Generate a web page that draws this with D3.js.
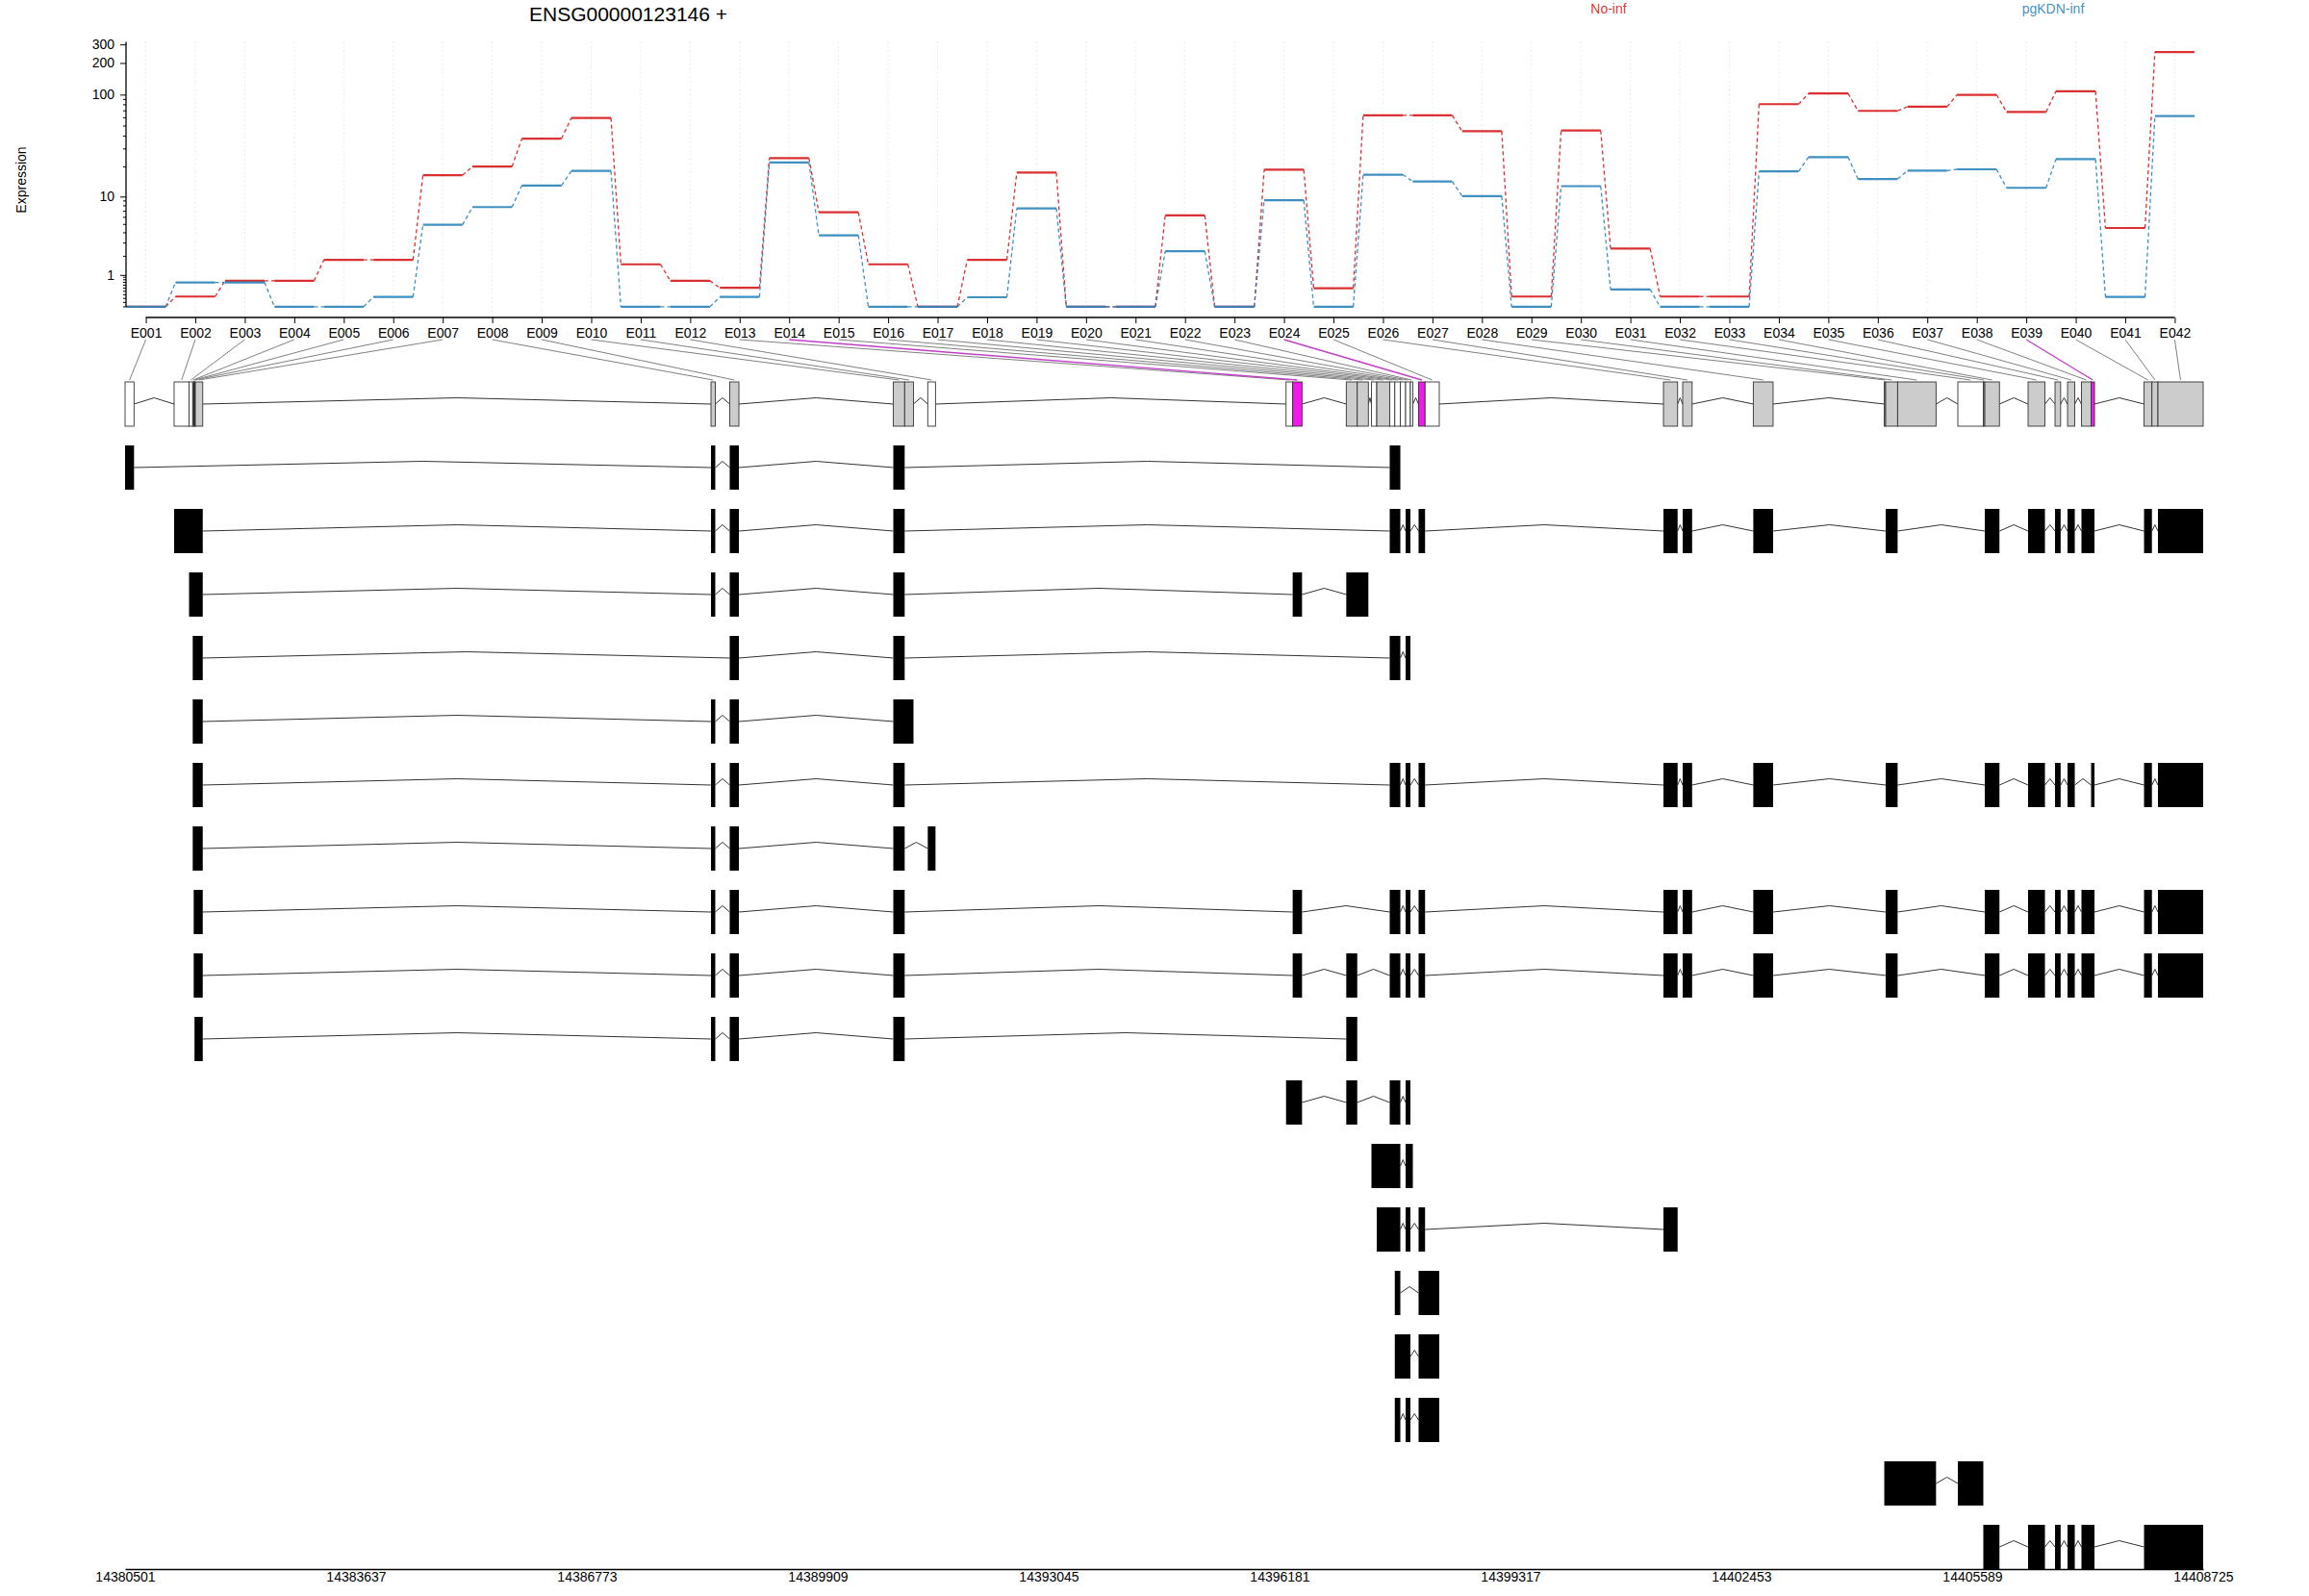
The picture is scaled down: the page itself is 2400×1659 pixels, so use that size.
<!DOCTYPE html>
<html><head><meta charset="utf-8">
<script src="https://cdn.jsdelivr.net/npm/d3@7"></script>
<style>
body{margin:0;background:#fff}
svg{display:block}
text{font-family:"Liberation Sans",Arial,Helvetica,sans-serif}
</style>
</head><body>
<svg id="c" width="2400" height="1659"></svg>
<script>
// ---------------- DATA ----------------
const geneTitle = "ENSG00000123146 +";
const conditions = ["No-inf", "pgKDN-inf"];
const conditionColors = ["#D7191C", "#2B83BA"];
const exonIds = ["E001","E002","E003","E004","E005","E006","E007","E008","E009","E010",
  "E011","E012","E013","E014","E015","E016","E017","E018","E019","E020",
  "E021","E022","E023","E024","E025","E026","E027","E028","E029","E030",
  "E031","E032","E033","E034","E035","E036","E037","E038","E039","E040","E041","E042"];
const exprNoInf = [0,0.25,0.76,0.76,1.78,1.78,16.5,20.1,37.8,59.8,
  1.52,0.76,0.51,24.4,6.82,1.52,0,1.78,17.5,0,
  0,6.29,0,18.7,0.50,63.3,63.3,44.6,0.25,45.3,
  2.55,0.25,0.25,81.1,102.5,69.9,76.6,99.5,68.4,107.6,4.55,254];
const exprPgKDN = [0,0.70,0.70,0,0,0.24,4.95,7.75,13.0,18.2,
  0,0,0.24,22.1,3.73,0,0,0.23,7.51,0,
  0,2.35,0,9.14,0,16.7,14.3,10.1,0,12.8,
  0.46,0,0,18.0,24.9,15.1,18.3,18.9,12.3,23.8,0.24,62.4];
const binStart = [14380501,14381167,14381370,14381420,14381433,14381444,14381455,14388459,14388713,14390935,
  14391089,14391403,14396269,14396359,14397087,14397236,14397429,14397501,14397677,14397746,
  14397821,14397893,14397958,14398069,14398157,14401395,14401656,14402615,14404394,14404413,
  14404575,14405393,14405739,14405759,14406347,14406713,14406883,14407072,14407203,14407922,14408029,14408111];
const binEnd = [14380623,14381370,14381420,14381433,14381444,14381455,14381556,14388517,14388838,14391089,
  14391209,14391508,14396359,14396486,14397236,14397387,14397501,14397677,14397746,14397821,
  14397893,14397958,14397991,14398157,14398350,14401587,14401784,14402884,14404413,14404575,
  14405097,14405739,14405759,14405958,14406576,14406789,14406981,14407203,14407249,14408029,14408111,14408725];
// "w" = white (not tested), "g" = tested, "s" = significant
const binStatus = ["w","w","w","g","g","g","g","g","g","g",
  "g","w","w","s","g","g","w","g","w","w",
  "w","w","w","s","w","g","g","g","g","g",
  "g","w","g","g","g","g","g","g","s","g","g","g"];
const transcripts = [
  [["E001","E001"],["E008","E008"],["E009","E009"],["E010","E010"],["E019","E020"]],
  [["E002","E007"],["E008","E008"],["E009","E009"],["E010","E010"],["E019","E020"],["E022","E022"],["E024","E024"],["E026","E026"],["E027","E027"],["E028","E028"],["E030","E030"],["E034","E034"],["E035","E035"],["E036","E036"],["E037","E037"],["E038","E039"],["E040","E040"],["E042","E042"]],
  [["E003","E007"],["E008","E008"],["E009","E009"],["E010","E010"],["E014","E014"],["E015","E016"]],
  [["E004","E007"],["E009","E009"],["E010","E010"],["E019","E020"],["E022","E022"]],
  [["E004","E007"],["E008","E008"],["E009","E009"],["E010","E011"]],
  [["E004","E007"],["E008","E008"],["E009","E009"],["E010","E010"],["E019","E020"],["E022","E022"],["E024","E024"],["E026","E026"],["E027","E027"],["E028","E028"],["E030","E030"],["E034","E034"],["E035","E035"],["E036","E036"],["E037","E037"],["E039","E039"],["E040","E040"],["E042","E042"]],
  [["E004","E007"],["E008","E008"],["E009","E009"],["E010","E010"],["E012","E012"]],
  [["E005","E007"],["E008","E008"],["E009","E009"],["E010","E010"],["E014","E014"],["E019","E020"],["E022","E022"],["E024","E024"],["E026","E026"],["E027","E027"],["E028","E028"],["E030","E030"],["E034","E034"],["E035","E035"],["E036","E036"],["E037","E037"],["E038","E039"],["E040","E040"],["E042","E042"]],
  [["E005","E007"],["E008","E008"],["E009","E009"],["E010","E010"],["E014","E014"],["E015","E015"],["E019","E020"],["E022","E022"],["E024","E024"],["E026","E026"],["E027","E027"],["E028","E028"],["E030","E030"],["E034","E034"],["E035","E035"],["E036","E036"],["E037","E037"],["E038","E039"],["E040","E040"],["E042","E042"]],
  [["E006","E007"],["E008","E008"],["E009","E009"],["E010","E010"],["E015","E015"]],
  [["E013","E014"],["E015","E015"],["E019","E020"],["E022","E022"]],
  [["E017","E020"],["E022","E023"]],
  [["E018","E020"],["E022","E022"],["E024","E024"],["E026","E026"]],
  [["E020","E020"],["E024","E025"]],
  [["E020","E022"],["E024","E025"]],
  [["E020","E020"],["E022","E022"],["E024","E025"]],
  [["E029","E031"],["E032","E032"]],
  [["E033","E034"],["E035","E035"],["E036","E036"],["E037","E037"],["E038","E039"],["E040","E042"]]
];
const yTickValues = [1, 10, 100, 200, 300];
const yMinorValues = [0,0.1,0.2,0.3,0.4,0.5,0.6,0.7,0.8,0.9,2,3,4,5,6,7,8,9,20,30,40,50,60,70,80,90];
const genomicTicks = [14380501,14383637,14386773,14389909,14393045,14396181,14399317,14402453,14405589,14408725];

// ---------------- DRAW ----------------
const svg = d3.select("#c");
svg.append("rect").attr("width",2400).attr("height",1659).attr("fill","#fff");
const FONT = 14;

// expression panel scales
const n = exonIds.length;
const x = d3.scaleLinear().domain([0.6, n + 0.4]).range([131, 2281]);
const maxLog = Math.log10(d3.max(exprNoInf.concat(exprPgKDN)) + 1);
const pad = maxLog * 0.04;
const y = d3.scaleLinear().domain([-pad, maxLog + pad]).range([329.5, 43.5]);
const ly = v => y(Math.log10(v + 1));

// vertical grid
svg.append("g").selectAll("line").data(d3.range(1, n + 1)).join("line")
  .attr("x1", d => x(d)).attr("x2", d => x(d))
  .attr("y1", y.range()[1]).attr("y2", y.range()[0])
  .attr("stroke", "#e4e4e4").attr("stroke-width", 1).attr("stroke-dasharray", "1.5,3");

// series
const series = [exprNoInf, exprPgKDN];
series.forEach((vals, s) => {
  const g = svg.append("g");
  const col = conditionColors[s];
  g.selectAll("line.seg").data(vals).join("line").attr("class","seg")
    .attr("x1", (d,i) => x(i + 1 - 0.4)).attr("x2", (d,i) => x(i + 1 + 0.4))
    .attr("y1", d => ly(d)).attr("y2", d => ly(d))
    .attr("stroke", col).attr("stroke-opacity", 0.9).attr("stroke-width", 2.2);
  g.selectAll("line.con").data(vals.slice(0, -1)).join("line").attr("class","con")
    .attr("x1", (d,i) => x(i + 1 + 0.4)).attr("x2", (d,i) => x(i + 2 - 0.4))
    .attr("y1", d => ly(d)).attr("y2", (d,i) => ly(vals[i + 1]))
    .attr("stroke", col).attr("stroke-opacity", 0.9).attr("stroke-width", 1.3)
    .attr("stroke-dasharray", "4,3");
});

// y axis
const yAxisG = svg.append("g").attr("transform", "translate(131,0)");
yAxisG.call(d3.axisLeft(y)
  .tickValues(yTickValues.map(v => Math.log10(v + 1)))
  .tickFormat((d, i) => yTickValues[i])
  .tickSize(6).tickPadding(6));
yAxisG.select(".domain").remove();
yAxisG.selectAll("text").attr("font-size", FONT).attr("font-family", "Liberation Sans, Arial, sans-serif");
yAxisG.selectAll("line").attr("stroke", "#000");
yAxisG.append("g").selectAll("line").data(yMinorValues).join("line")
  .attr("x1", -3).attr("x2", 0).attr("y1", d => ly(d)).attr("y2", d => ly(d)).attr("stroke", "#000");
yAxisG.append("line").attr("x1", 0).attr("x2", 0).attr("y1", y.range()[1]).attr("y2", ly(0))
  .attr("stroke", "#000").attr("stroke-width", 1.3);

// x axis of expression panel (exon ids)
const xAxisG = svg.append("g").attr("transform", "translate(0,330)");
xAxisG.call(d3.axisBottom(x).tickValues(d3.range(1, n + 1))
  .tickFormat(d => exonIds[d - 1]).tickSize(6).tickPadding(5));
xAxisG.select(".domain").remove();
xAxisG.selectAll("text").attr("font-size", FONT).attr("font-family", "Liberation Sans, Arial, sans-serif");
xAxisG.append("line").attr("x1", x(1)).attr("x2", x(n)).attr("stroke", "#000").attr("stroke-width", 1.3);

// titles / legend
svg.append("text").attr("x", 653).attr("y", 22).attr("text-anchor", "middle")
  .attr("font-size", 21).text(geneTitle);
svg.append("text").attr("transform", "translate(27,187) rotate(-90)").attr("text-anchor", "middle")
  .attr("font-size", FONT).text("Expression");
const legendX = [1672, 2134];
conditions.forEach((c, i) => {
  svg.append("text").attr("x", legendX[i]).attr("y", 13.5).attr("text-anchor", "middle")
    .attr("font-size", FONT).attr("fill", conditionColors[i]).attr("fill-opacity", 0.9).text(c);
});

// genomic scale
const xg = d3.scaleLinear().domain([d3.min(binStart), d3.max(binEnd)]).range([130, 2290]);
const rowY = d3.scaleLinear().domain([0, transcripts.length]).range([420, 1608]);
const BOXH = 46, PEAK = 6.5;
const idx = id => exonIds.indexOf(id);

// connectors from exon labels to bins
svg.append("g").selectAll("line").data(exonIds).join("line")
  .attr("x1", (d,i) => x(i + 1)).attr("y1", 353)
  .attr("x2", (d,i) => xg((binStart[i] + binEnd[i]) / 2)).attr("y2", 395)
  .attr("stroke", (d,i) => binStatus[i] === "s" ? "#C040C8" : "#808080")
  .attr("stroke-width", (d,i) => binStatus[i] === "s" ? 1.4 : 1);

function intronPath(x1, x2, cy) {
  return `M${x1},${cy}L${(x1 + x2) / 2},${cy - PEAK}L${x2},${cy}`;
}

// gene model row
const gm = svg.append("g");
const gcy = rowY(0);
for (let i = 0; i < n - 1; i++) {
  if (binStart[i + 1] > binEnd[i]) {
    gm.append("path").attr("d", intronPath(xg(binEnd[i]), xg(binStart[i + 1]), gcy))
      .attr("fill", "none").attr("stroke", "#333").attr("stroke-width", 1);
  }
}
gm.selectAll("rect").data(exonIds).join("rect")
  .attr("x", (d,i) => xg(binStart[i])).attr("width", (d,i) => xg(binEnd[i]) - xg(binStart[i]))
  .attr("y", gcy - BOXH / 2).attr("height", BOXH)
  .attr("fill", (d,i) => binStatus[i] === "s" ? "#F219ED" : (binStatus[i] === "g" ? "#CCCCCC" : "#FFFFFF"))
  .attr("stroke", "#333").attr("stroke-width", 0.9);

// transcripts
transcripts.forEach((tx, k) => {
  const cy = rowY(k + 1);
  const g = svg.append("g");
  const ex = tx.map(([a, b]) => [binStart[idx(a)], binEnd[idx(b)]]);
  for (let j = 0; j < ex.length - 1; j++) {
    g.append("path").attr("d", intronPath(xg(ex[j][1]), xg(ex[j + 1][0]), cy))
      .attr("fill", "none").attr("stroke", "#333").attr("stroke-width", 1);
  }
  g.selectAll("rect").data(ex).join("rect")
    .attr("x", d => xg(d[0])).attr("width", d => Math.max(1.5, xg(d[1]) - xg(d[0])))
    .attr("y", cy - BOXH / 2).attr("height", BOXH).attr("fill", "#000");
});

// genomic axis
const gAxis = svg.append("g").attr("transform", "translate(0,1631)");
gAxis.call(d3.axisBottom(xg).tickValues(genomicTicks).tickFormat(d => String(d))
  .tickSize(0).tickSizeOuter(0).tickPadding(3));
gAxis.selectAll("text").attr("font-size", FONT).attr("font-family", "Liberation Sans, Arial, sans-serif");
gAxis.select(".domain").attr("stroke", "#000").attr("stroke-width", 1.3);
</script>
</body></html>
